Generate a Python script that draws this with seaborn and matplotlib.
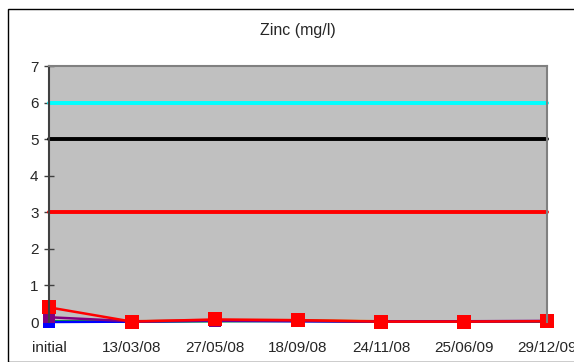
import matplotlib
matplotlib.use("Agg")
import matplotlib.pyplot as plt
import seaborn as sns
import pandas as pd
from matplotlib.patches import Rectangle

sns.set_theme(style="white")
plt.rcParams["font.family"] = ["Liberation Sans", "DejaVu Sans"]

dates = ["initial", "13/03/08", "27/05/08", "18/09/08", "24/11/08", "25/06/09", "29/12/09"]

# limit values (mg/l)
limit_cyan = [6, 6, 6, 6, 6, 6, 6]
limit_black = [5, 5, 5, 5, 5, 5, 5]
limit_red = [3, 3, 3, 3, 3, 3, 3]

# measured zinc concentrations (mg/l)
site_blue = [0.0, 0.01, 0.03, 0.02, 0.01, 0.01, 0.02]
site_green = [0.02, 0.01, 0.02, 0.03, 0.01, 0.01, 0.01]
site_purple = [0.13, 0.02, 0.04, 0.03, 0.02, 0.02, 0.03]
site_orange = [0.02, 0.02, 0.05, 0.05, 0.02, 0.02, 0.02]
site_red = [0.4, 0.01, 0.07, 0.05, 0.01, 0.01, 0.02]

x = list(range(len(dates)))

fig = plt.figure(figsize=(5.74, 3.62), dpi=100)
ax = fig.add_axes([49 / 574, 1 - 322 / 362, (547 - 49) / 574, (322 - 66) / 362])
ax.set_facecolor("#c0c0c0")

# chart-area frame
fig.patches.append(Rectangle((8 / 574, 0), 2, 1 - 9 / 362, transform=fig.transFigure,
                             fill=False, edgecolor="black", linewidth=1.0))

for vals, col in [(limit_cyan, "#00ffff"), (limit_black, "#000000"), (limit_red, "#ff0000")]:
    sns.lineplot(x=x, y=vals, ax=ax, color=col, linewidth=2.8, clip_on=False)

series = [
    (site_orange, "#ff9900", "o", 5),
    (site_green, "#00cc00", "D", 5),
    (site_blue, "#0000ff", "s", 8),
    (site_purple, "#800080", "s", 8),
    (site_red, "#ff0000", "s", 10),
]
for vals, col, mk, ms in series:
    sns.lineplot(x=x, y=vals, ax=ax, color=col, linewidth=1.8, marker=mk,
                 markersize=ms, markeredgewidth=0, clip_on=False)

ax.set_xlim(0, 6)
ax.set_ylim(0, 7)
ax.set_yticks(range(0, 8))
ax.set_xticks(x)
ax.set_xticklabels(dates)
ax.tick_params(axis="y", direction="inout", length=7, width=1, color="#404040",
               labelsize=11, pad=4, left=True)
ax.tick_params(axis="x", length=0, labelsize=11, pad=14)

for side in ["top", "right", "bottom"]:
    ax.spines[side].set_color("#808080")
    ax.spines[side].set_linewidth(1.5)
ax.spines["bottom"].set_visible(False)
ax.spines["left"].set_color("#404040")
ax.spines["left"].set_linewidth(1.5)

fig.text(298 / 574, 1 - 30 / 362, "Zinc (mg/l)", ha="center", va="center", fontsize=11.5)

fig.savefig("out.png", dpi=100)
